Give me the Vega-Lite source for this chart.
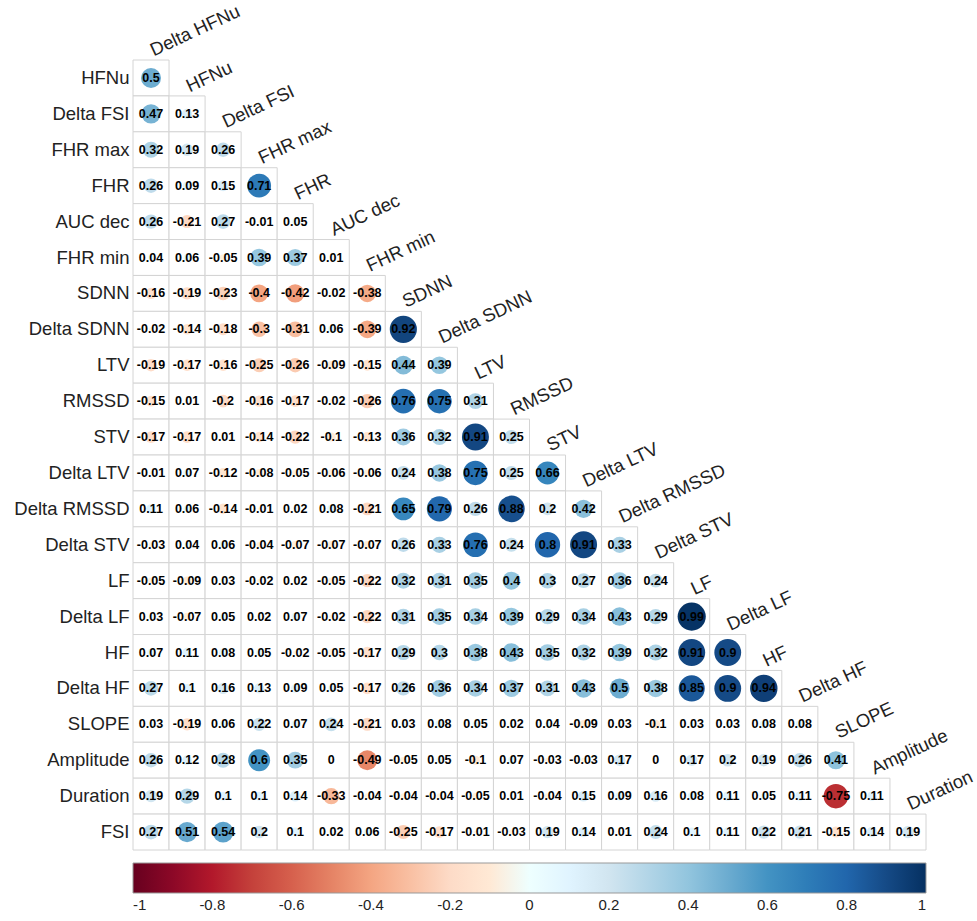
{
  "$schema": "https://vega.github.io/schema/vega-lite/v6.json",
  "autosize": "none",
  "padding": {"left": 133, "top": 60, "right": 51, "bottom": 71},
  "width": 793,
  "height": 790,
  "config": {"view": {"stroke": null}, "font": "Liberation Sans"},
  "datasets": {
    "cells": [
      {"row":"HFNu","col":"Delta HFNu","r":0.5},
      {"row":"Delta FSI","col":"Delta HFNu","r":0.47},{"row":"Delta FSI","col":"HFNu","r":0.13},
      {"row":"FHR max","col":"Delta HFNu","r":0.32},{"row":"FHR max","col":"HFNu","r":0.19},{"row":"FHR max","col":"Delta FSI","r":0.26},
      {"row":"FHR","col":"Delta HFNu","r":0.26},{"row":"FHR","col":"HFNu","r":0.09},{"row":"FHR","col":"Delta FSI","r":0.15},{"row":"FHR","col":"FHR max","r":0.71},
      {"row":"AUC dec","col":"Delta HFNu","r":0.26},{"row":"AUC dec","col":"HFNu","r":-0.21},{"row":"AUC dec","col":"Delta FSI","r":0.27},{"row":"AUC dec","col":"FHR max","r":-0.01},{"row":"AUC dec","col":"FHR","r":0.05},
      {"row":"FHR min","col":"Delta HFNu","r":0.04},{"row":"FHR min","col":"HFNu","r":0.06},{"row":"FHR min","col":"Delta FSI","r":-0.05},{"row":"FHR min","col":"FHR max","r":0.39},{"row":"FHR min","col":"FHR","r":0.37},{"row":"FHR min","col":"AUC dec","r":0.01},
      {"row":"SDNN","col":"Delta HFNu","r":-0.16},{"row":"SDNN","col":"HFNu","r":-0.19},{"row":"SDNN","col":"Delta FSI","r":-0.23},{"row":"SDNN","col":"FHR max","r":-0.4},{"row":"SDNN","col":"FHR","r":-0.42},{"row":"SDNN","col":"AUC dec","r":-0.02},{"row":"SDNN","col":"FHR min","r":-0.38},
      {"row":"Delta SDNN","col":"Delta HFNu","r":-0.02},{"row":"Delta SDNN","col":"HFNu","r":-0.14},{"row":"Delta SDNN","col":"Delta FSI","r":-0.18},{"row":"Delta SDNN","col":"FHR max","r":-0.3},{"row":"Delta SDNN","col":"FHR","r":-0.31},{"row":"Delta SDNN","col":"AUC dec","r":0.06},{"row":"Delta SDNN","col":"FHR min","r":-0.39},{"row":"Delta SDNN","col":"SDNN","r":0.92},
      {"row":"LTV","col":"Delta HFNu","r":-0.19},{"row":"LTV","col":"HFNu","r":-0.17},{"row":"LTV","col":"Delta FSI","r":-0.16},{"row":"LTV","col":"FHR max","r":-0.25},{"row":"LTV","col":"FHR","r":-0.26},{"row":"LTV","col":"AUC dec","r":-0.09},{"row":"LTV","col":"FHR min","r":-0.15},{"row":"LTV","col":"SDNN","r":0.44},{"row":"LTV","col":"Delta SDNN","r":0.39},
      {"row":"RMSSD","col":"Delta HFNu","r":-0.15},{"row":"RMSSD","col":"HFNu","r":0.01},{"row":"RMSSD","col":"Delta FSI","r":-0.2},{"row":"RMSSD","col":"FHR max","r":-0.16},{"row":"RMSSD","col":"FHR","r":-0.17},{"row":"RMSSD","col":"AUC dec","r":-0.02},{"row":"RMSSD","col":"FHR min","r":-0.26},{"row":"RMSSD","col":"SDNN","r":0.76},{"row":"RMSSD","col":"Delta SDNN","r":0.75},{"row":"RMSSD","col":"LTV","r":0.31},
      {"row":"STV","col":"Delta HFNu","r":-0.17},{"row":"STV","col":"HFNu","r":-0.17},{"row":"STV","col":"Delta FSI","r":0.01},{"row":"STV","col":"FHR max","r":-0.14},{"row":"STV","col":"FHR","r":-0.22},{"row":"STV","col":"AUC dec","r":-0.1},{"row":"STV","col":"FHR min","r":-0.13},{"row":"STV","col":"SDNN","r":0.36},{"row":"STV","col":"Delta SDNN","r":0.32},{"row":"STV","col":"LTV","r":0.91},{"row":"STV","col":"RMSSD","r":0.25},
      {"row":"Delta LTV","col":"Delta HFNu","r":-0.01},{"row":"Delta LTV","col":"HFNu","r":0.07},{"row":"Delta LTV","col":"Delta FSI","r":-0.12},{"row":"Delta LTV","col":"FHR max","r":-0.08},{"row":"Delta LTV","col":"FHR","r":-0.05},{"row":"Delta LTV","col":"AUC dec","r":-0.06},{"row":"Delta LTV","col":"FHR min","r":-0.06},{"row":"Delta LTV","col":"SDNN","r":0.24},{"row":"Delta LTV","col":"Delta SDNN","r":0.38},{"row":"Delta LTV","col":"LTV","r":0.75},{"row":"Delta LTV","col":"RMSSD","r":0.25},{"row":"Delta LTV","col":"STV","r":0.66},
      {"row":"Delta RMSSD","col":"Delta HFNu","r":0.11},{"row":"Delta RMSSD","col":"HFNu","r":0.06},{"row":"Delta RMSSD","col":"Delta FSI","r":-0.14},{"row":"Delta RMSSD","col":"FHR max","r":-0.01},{"row":"Delta RMSSD","col":"FHR","r":0.02},{"row":"Delta RMSSD","col":"AUC dec","r":0.08},{"row":"Delta RMSSD","col":"FHR min","r":-0.21},{"row":"Delta RMSSD","col":"SDNN","r":0.65},{"row":"Delta RMSSD","col":"Delta SDNN","r":0.79},{"row":"Delta RMSSD","col":"LTV","r":0.26},{"row":"Delta RMSSD","col":"RMSSD","r":0.88},{"row":"Delta RMSSD","col":"STV","r":0.2},{"row":"Delta RMSSD","col":"Delta LTV","r":0.42},
      {"row":"Delta STV","col":"Delta HFNu","r":-0.03},{"row":"Delta STV","col":"HFNu","r":0.04},{"row":"Delta STV","col":"Delta FSI","r":0.06},{"row":"Delta STV","col":"FHR max","r":-0.04},{"row":"Delta STV","col":"FHR","r":-0.07},{"row":"Delta STV","col":"AUC dec","r":-0.07},{"row":"Delta STV","col":"FHR min","r":-0.07},{"row":"Delta STV","col":"SDNN","r":0.26},{"row":"Delta STV","col":"Delta SDNN","r":0.33},{"row":"Delta STV","col":"LTV","r":0.76},{"row":"Delta STV","col":"RMSSD","r":0.24},{"row":"Delta STV","col":"STV","r":0.8},{"row":"Delta STV","col":"Delta LTV","r":0.91},{"row":"Delta STV","col":"Delta RMSSD","r":0.33},
      {"row":"LF","col":"Delta HFNu","r":-0.05},{"row":"LF","col":"HFNu","r":-0.09},{"row":"LF","col":"Delta FSI","r":0.03},{"row":"LF","col":"FHR max","r":-0.02},{"row":"LF","col":"FHR","r":0.02},{"row":"LF","col":"AUC dec","r":-0.05},{"row":"LF","col":"FHR min","r":-0.22},{"row":"LF","col":"SDNN","r":0.32},{"row":"LF","col":"Delta SDNN","r":0.31},{"row":"LF","col":"LTV","r":0.35},{"row":"LF","col":"RMSSD","r":0.4},{"row":"LF","col":"STV","r":0.3},{"row":"LF","col":"Delta LTV","r":0.27},{"row":"LF","col":"Delta RMSSD","r":0.36},{"row":"LF","col":"Delta STV","r":0.24},
      {"row":"Delta LF","col":"Delta HFNu","r":0.03},{"row":"Delta LF","col":"HFNu","r":-0.07},{"row":"Delta LF","col":"Delta FSI","r":0.05},{"row":"Delta LF","col":"FHR max","r":0.02},{"row":"Delta LF","col":"FHR","r":0.07},{"row":"Delta LF","col":"AUC dec","r":-0.02},{"row":"Delta LF","col":"FHR min","r":-0.22},{"row":"Delta LF","col":"SDNN","r":0.31},{"row":"Delta LF","col":"Delta SDNN","r":0.35},{"row":"Delta LF","col":"LTV","r":0.34},{"row":"Delta LF","col":"RMSSD","r":0.39},{"row":"Delta LF","col":"STV","r":0.29},{"row":"Delta LF","col":"Delta LTV","r":0.34},{"row":"Delta LF","col":"Delta RMSSD","r":0.43},{"row":"Delta LF","col":"Delta STV","r":0.29},{"row":"Delta LF","col":"LF","r":0.99},
      {"row":"HF","col":"Delta HFNu","r":0.07},{"row":"HF","col":"HFNu","r":0.11},{"row":"HF","col":"Delta FSI","r":0.08},{"row":"HF","col":"FHR max","r":0.05},{"row":"HF","col":"FHR","r":-0.02},{"row":"HF","col":"AUC dec","r":-0.05},{"row":"HF","col":"FHR min","r":-0.17},{"row":"HF","col":"SDNN","r":0.29},{"row":"HF","col":"Delta SDNN","r":0.3},{"row":"HF","col":"LTV","r":0.38},{"row":"HF","col":"RMSSD","r":0.43},{"row":"HF","col":"STV","r":0.35},{"row":"HF","col":"Delta LTV","r":0.32},{"row":"HF","col":"Delta RMSSD","r":0.39},{"row":"HF","col":"Delta STV","r":0.32},{"row":"HF","col":"LF","r":0.91},{"row":"HF","col":"Delta LF","r":0.9},
      {"row":"Delta HF","col":"Delta HFNu","r":0.27},{"row":"Delta HF","col":"HFNu","r":0.1},{"row":"Delta HF","col":"Delta FSI","r":0.16},{"row":"Delta HF","col":"FHR max","r":0.13},{"row":"Delta HF","col":"FHR","r":0.09},{"row":"Delta HF","col":"AUC dec","r":0.05},{"row":"Delta HF","col":"FHR min","r":-0.17},{"row":"Delta HF","col":"SDNN","r":0.26},{"row":"Delta HF","col":"Delta SDNN","r":0.36},{"row":"Delta HF","col":"LTV","r":0.34},{"row":"Delta HF","col":"RMSSD","r":0.37},{"row":"Delta HF","col":"STV","r":0.31},{"row":"Delta HF","col":"Delta LTV","r":0.43},{"row":"Delta HF","col":"Delta RMSSD","r":0.5},{"row":"Delta HF","col":"Delta STV","r":0.38},{"row":"Delta HF","col":"LF","r":0.85},{"row":"Delta HF","col":"Delta LF","r":0.9},{"row":"Delta HF","col":"HF","r":0.94},
      {"row":"SLOPE","col":"Delta HFNu","r":0.03},{"row":"SLOPE","col":"HFNu","r":-0.19},{"row":"SLOPE","col":"Delta FSI","r":0.06},{"row":"SLOPE","col":"FHR max","r":0.22},{"row":"SLOPE","col":"FHR","r":0.07},{"row":"SLOPE","col":"AUC dec","r":0.24},{"row":"SLOPE","col":"FHR min","r":-0.21},{"row":"SLOPE","col":"SDNN","r":0.03},{"row":"SLOPE","col":"Delta SDNN","r":0.08},{"row":"SLOPE","col":"LTV","r":0.05},{"row":"SLOPE","col":"RMSSD","r":0.02},{"row":"SLOPE","col":"STV","r":0.04},{"row":"SLOPE","col":"Delta LTV","r":-0.09},{"row":"SLOPE","col":"Delta RMSSD","r":0.03},{"row":"SLOPE","col":"Delta STV","r":-0.1},{"row":"SLOPE","col":"LF","r":0.03},{"row":"SLOPE","col":"Delta LF","r":0.03},{"row":"SLOPE","col":"HF","r":0.08},{"row":"SLOPE","col":"Delta HF","r":0.08},
      {"row":"Amplitude","col":"Delta HFNu","r":0.26},{"row":"Amplitude","col":"HFNu","r":0.12},{"row":"Amplitude","col":"Delta FSI","r":0.28},{"row":"Amplitude","col":"FHR max","r":0.6},{"row":"Amplitude","col":"FHR","r":0.35},{"row":"Amplitude","col":"AUC dec","r":0},{"row":"Amplitude","col":"FHR min","r":-0.49},{"row":"Amplitude","col":"SDNN","r":-0.05},{"row":"Amplitude","col":"Delta SDNN","r":0.05},{"row":"Amplitude","col":"LTV","r":-0.1},{"row":"Amplitude","col":"RMSSD","r":0.07},{"row":"Amplitude","col":"STV","r":-0.03},{"row":"Amplitude","col":"Delta LTV","r":-0.03},{"row":"Amplitude","col":"Delta RMSSD","r":0.17},{"row":"Amplitude","col":"Delta STV","r":0},{"row":"Amplitude","col":"LF","r":0.17},{"row":"Amplitude","col":"Delta LF","r":0.2},{"row":"Amplitude","col":"HF","r":0.19},{"row":"Amplitude","col":"Delta HF","r":0.26},{"row":"Amplitude","col":"SLOPE","r":0.41},
      {"row":"Duration","col":"Delta HFNu","r":0.19},{"row":"Duration","col":"HFNu","r":0.29},{"row":"Duration","col":"Delta FSI","r":0.1},{"row":"Duration","col":"FHR max","r":0.1},{"row":"Duration","col":"FHR","r":0.14},{"row":"Duration","col":"AUC dec","r":-0.33},{"row":"Duration","col":"FHR min","r":-0.04},{"row":"Duration","col":"SDNN","r":-0.04},{"row":"Duration","col":"Delta SDNN","r":-0.04},{"row":"Duration","col":"LTV","r":-0.05},{"row":"Duration","col":"RMSSD","r":0.01},{"row":"Duration","col":"STV","r":-0.04},{"row":"Duration","col":"Delta LTV","r":0.15},{"row":"Duration","col":"Delta RMSSD","r":0.09},{"row":"Duration","col":"Delta STV","r":0.16},{"row":"Duration","col":"LF","r":0.08},{"row":"Duration","col":"Delta LF","r":0.11},{"row":"Duration","col":"HF","r":0.05},{"row":"Duration","col":"Delta HF","r":0.11},{"row":"Duration","col":"SLOPE","r":-0.75},{"row":"Duration","col":"Amplitude","r":0.11},
      {"row":"FSI","col":"Delta HFNu","r":0.27},{"row":"FSI","col":"HFNu","r":0.51},{"row":"FSI","col":"Delta FSI","r":0.54},{"row":"FSI","col":"FHR max","r":0.2},{"row":"FSI","col":"FHR","r":0.1},{"row":"FSI","col":"AUC dec","r":0.02},{"row":"FSI","col":"FHR min","r":0.06},{"row":"FSI","col":"SDNN","r":-0.25},{"row":"FSI","col":"Delta SDNN","r":-0.17},{"row":"FSI","col":"LTV","r":-0.01},{"row":"FSI","col":"RMSSD","r":-0.03},{"row":"FSI","col":"STV","r":0.19},{"row":"FSI","col":"Delta LTV","r":0.14},{"row":"FSI","col":"Delta RMSSD","r":0.01},{"row":"FSI","col":"Delta STV","r":0.24},{"row":"FSI","col":"LF","r":0.1},{"row":"FSI","col":"Delta LF","r":0.11},{"row":"FSI","col":"HF","r":0.22},{"row":"FSI","col":"Delta HF","r":0.21},{"row":"FSI","col":"SLOPE","r":-0.15},{"row":"FSI","col":"Amplitude","r":0.14},{"row":"FSI","col":"Duration","r":0.19}
    ],
    "labels": [
      {"col":"Delta HFNu","row":"HFNu"},{"col":"HFNu","row":"Delta FSI"},{"col":"Delta FSI","row":"FHR max"},{"col":"FHR max","row":"FHR"},
      {"col":"FHR","row":"AUC dec"},{"col":"AUC dec","row":"FHR min"},{"col":"FHR min","row":"SDNN"},{"col":"SDNN","row":"Delta SDNN"},
      {"col":"Delta SDNN","row":"LTV"},{"col":"LTV","row":"RMSSD"},{"col":"RMSSD","row":"STV"},{"col":"STV","row":"Delta LTV"},
      {"col":"Delta LTV","row":"Delta RMSSD"},{"col":"Delta RMSSD","row":"Delta STV"},{"col":"Delta STV","row":"LF"},{"col":"LF","row":"Delta LF"},
      {"col":"Delta LF","row":"HF"},{"col":"HF","row":"Delta HF"},{"col":"Delta HF","row":"SLOPE"},{"col":"SLOPE","row":"Amplitude"},
      {"col":"Amplitude","row":"Duration"},{"col":"Duration","row":"FSI"}
    ]
  },
  "encoding": {
    "x": {"field": "col", "type": "nominal", "axis": null,
      "scale": {"paddingInner": 0, "paddingOuter": 0,
        "domain": ["Delta HFNu","HFNu","Delta FSI","FHR max","FHR","AUC dec","FHR min","SDNN","Delta SDNN","LTV","RMSSD","STV","Delta LTV","Delta RMSSD","Delta STV","LF","Delta LF","HF","Delta HF","SLOPE","Amplitude","Duration"]}},
    "y": {"field": "row", "type": "nominal",
      "axis": {"title": null, "domain": false, "ticks": false, "labelFontSize": 18.5, "labelPadding": 4, "labelColor": "#222222", "labelFont": "Liberation Sans"},
      "scale": {"paddingInner": 0, "paddingOuter": 0,
        "domain": ["HFNu","Delta FSI","FHR max","FHR","AUC dec","FHR min","SDNN","Delta SDNN","LTV","RMSSD","STV","Delta LTV","Delta RMSSD","Delta STV","LF","Delta LF","HF","Delta HF","SLOPE","Amplitude","Duration","FSI"]}}
  },
  "layer": [
    {
      "data": {"name": "cells"},
      "mark": {"type": "rect", "fill": "white", "stroke": "#d4d4d4", "strokeWidth": 1}
    },
    {
      "data": {"name": "cells"},
      "transform": [{"calculate": "abs(datum.r)", "as": "absr"}],
      "mark": {"type": "circle", "opacity": 1},
      "encoding": {
        "size": {"field": "absr", "type": "quantitative", "legend": null, "scale": {"type": "linear", "domain": [0, 1], "range": [0, 800]}},
        "color": {"field": "r", "type": "quantitative",
          "scale": {"domain": [-1, -0.8, -0.6, -0.4, -0.2, 0, 0.2, 0.4, 0.6, 0.8, 1],
            "range": ["#67001F", "#B2182B", "#D6604D", "#F4A582", "#FDDBC7", "#FFFFFF", "#D1E5F0", "#92C5DE", "#4393C3", "#2166AC", "#053061"]},
          "legend": {"title": null, "orient": "none", "direction": "horizontal", "legendX": 0, "legendY": 803,
            "gradientLength": 793, "gradientThickness": 30, "gradientStrokeColor": "#999999", "gradientStrokeWidth": 1,
            "values": [-1, -0.8, -0.6, -0.4, -0.2, 0, 0.2, 0.4, 0.6, 0.8, 1],
            "labelExpr": "'' + datum.value", "labelFontSize": 15, "labelColor": "#222222", "labelOffset": 5, "labelFont": "Liberation Sans",
            "labelOverlap": false, "padding": 0,
            "encode": {"labels": {"update": {"align": {"value": "center"}}}}}}
      }
    },
    {
      "data": {"name": "cells"},
      "mark": {"type": "text", "fontSize": 12.5, "fontWeight": "bold", "color": "black", "font": "Liberation Sans"},
      "encoding": {"text": {"field": "r", "type": "nominal"}}
    },
    {
      "data": {"name": "labels"},
      "mark": {"type": "text", "align": "left", "baseline": "alphabetic", "angle": -25, "fontSize": 18.5, "color": "#222222", "font": "Liberation Sans", "dx": 4, "dy": -2},
      "encoding": {
        "y": {"field": "row", "type": "nominal", "bandPosition": 0},
        "text": {"field": "col", "type": "nominal"}
      }
    }
  ]
}
